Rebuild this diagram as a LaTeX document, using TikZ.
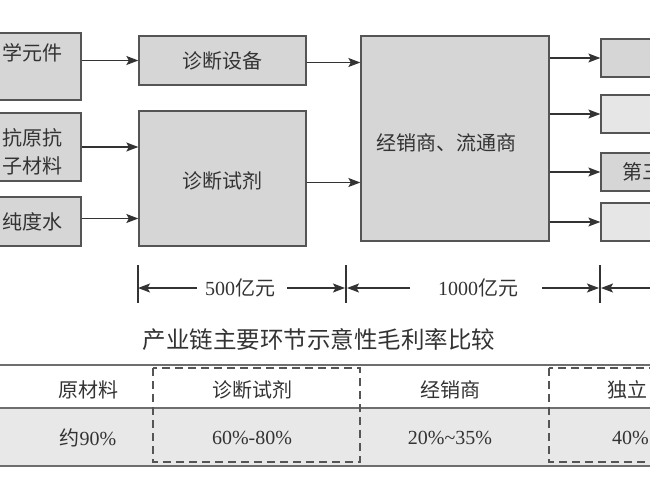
\documentclass[tikz,border=0pt]{standalone}
\usepackage{fontspec}
\setmainfont{Liberation Serif}
\newfontfamily\cjk{Noto Sans CJK SC}
\usetikzlibrary{arrows.meta,calc}
\definecolor{boxfill}{HTML}{D6D6D6}
\definecolor{boxlight}{HTML}{E6E6E6}
\definecolor{edge}{HTML}{555555}
\definecolor{txt}{HTML}{333333}
\definecolor{rowfill}{HTML}{E8E8E8}
\definecolor{tabline}{HTML}{6E6E6E}
\tikzset{
  blk/.style={draw=edge, line width=1.3pt, fill=boxfill, inner sep=0pt, text=txt,
    font=\cjk\fontsize{20}{24}\selectfont},
  blklight/.style={blk, fill=boxlight},
  lbl/.style={inner sep=0pt, text=txt, font=\cjk\fontsize{20}{28}\selectfont, align=center},
  dimtxt/.style={inner sep=0pt, text=txt, font=\fontsize{20}{24}\selectfont},
  tabtxt/.style={inner sep=0pt, text=txt, font=\fontsize{20}{24}\selectfont},
  ttl/.style={inner sep=0pt, text=txt, font=\cjk\fontsize{23.5}{28}\selectfont},
  arr/.style={draw=txt, line width=1.2pt, -{Stealth[length=12pt,width=9pt,inset=2.5pt]}},
  tick/.style={draw=txt, line width=1.2pt},
  tline/.style={draw=tabline, line width=2pt},
  dashbox/.style={draw=edge, line width=1.2pt, dash pattern=on 8pt off 5pt}
}
\begin{document}
\begin{tikzpicture}[x=1pt,y=-1pt]
\useasboundingbox (0,0) rectangle (650,487);
\clip (0,0) rectangle (650,487);

% left raw material boxes
\node[blk, minimum width=96, minimum height=67] (m1) at (33,66.5) {};
\node[lbl] (t1) at (32,53) {学元件};
\node[blk, minimum width=96, minimum height=68] (m2) at (33,147) {};
\node[lbl] (t2) at (32,152) {抗原抗\\子材料};
\node[blk, minimum width=96, minimum height=49] (m3) at (33,221.5) {};
\node[lbl] (t3) at (32,222) {纯度水};

% middle boxes
\node[blk, minimum width=167, minimum height=49] (sb) at (222.5,60.5) {诊断设备};
\node[blk, minimum width=167, minimum height=135] (sj) at (222.5,178.5) {};
\node[lbl] (tsj) at (222.5,181) {诊断试剂};
\node[blk, minimum width=188, minimum height=205] (jx) at (455,138.5) {};
\node[lbl] (tjx) at (446,143) {经销商、流通商};

% right boxes
\node[blk, minimum width=69, minimum height=38] (r1) at (635.5,58) {};
\node[blklight, minimum width=69, minimum height=38] (r2) at (635.5,114) {};
\node[blk, minimum width=69, minimum height=38] (r3) at (635.5,172) {};
\node[lbl, anchor=west] (tr3) at (622,172) {第三};
\node[blklight, minimum width=69, minimum height=38] (r4) at (635.5,222) {};

% connectors
\draw[arr] (sb.west -| m1.east) -- (sb.west);
\draw[arr] (m2.east) -- (m2.east -| sj.west);
\draw[arr] ($(m3.east)+(0,-3)$) -- ($(m3.east -| sj.west)+(0,-3)$);
\draw[arr] ($(sb.east)+(0,2)$) -- ($(sb.east -| jx.west)+(0,2)$);
\draw[arr] ($(sj.east)+(0,4)$) -- ($(sj.east -| jx.west)+(0,4)$);
\draw[arr] (r1.west -| jx.east) -- (r1.west);
\draw[arr] (r2.west -| jx.east) -- (r2.west);
\draw[arr] (r3.west -| jx.east) -- (r3.west);
\draw[arr] (r4.west -| jx.east) -- (r4.west);

% dimension lines
\coordinate (k1a) at (138,265); \coordinate (k1b) at (138,303);
\coordinate (k2a) at (346,265); \coordinate (k2b) at (346,303);
\coordinate (k3a) at (600,265); \coordinate (k3b) at (600,303);
\draw[tick] (k1a) -- (k1b);
\draw[tick] (k2a) -- (k2b);
\draw[tick] (k3a) -- (k3b);
\node[dimtxt] (d1) at (240,288) {500{\cjk 亿元}};
\node[dimtxt] (d2) at (478,288) {1000{\cjk 亿元}};
\coordinate (a1) at (197,288); \coordinate (a2) at (287,288);
\coordinate (a3) at (410,288); \coordinate (a4) at (542,288);
\coordinate (a5) at (665,288);
\draw[arr] (a1) -- (k1a |- a1);
\draw[arr] (a2) -- ($(k2a |- a2)+(-1,0)$);
\draw[arr] (a3) -- ($(k2a |- a3)+(1,0)$);
\draw[arr] (a4) -- ($(k3a |- a4)+(-1,0)$);
\draw[arr] (a5) -- ($(k3a |- a5)+(1,0)$);

% title
\node[ttl] (title) at (319,340) {产业链主要环节示意性毛利率比较};

% table
\coordinate (tl) at (-5,365); \coordinate (tr) at (655,365);
\coordinate (ml) at (-5,408); \coordinate (mr) at (655,408);
\coordinate (bl) at (-5,466); \coordinate (br) at (655,466);
\fill[rowfill] (ml) rectangle (br);
\draw[tline] (tl) -- (tr);
\draw[tline] (ml) -- (mr);
\draw[tline] (bl) -- (br);
\draw[dashbox] (153,368) rectangle (360,462);
\draw[dashbox] (549,368) rectangle (665,462);

\node[tabtxt] (h1) at (88,390) {\cjk 原材料};
\node[tabtxt] (v1) at (88,438) {{\cjk 约}90\%};
\node[tabtxt] (h2) at (252,390) {\cjk 诊断试剂};
\node[tabtxt] (v2) at (252,438) {60\%-80\%};
\node[tabtxt] (h3) at (450,390) {\cjk 经销商};
\node[tabtxt] (v3) at (450,438) {20\%\textasciitilde35\%};
\node[tabtxt, anchor=west] (h4) at (607,390) {\cjk 独立};
\node[tabtxt, anchor=west] (v4) at (612,438) {40\%};
\end{tikzpicture}
\end{document}
